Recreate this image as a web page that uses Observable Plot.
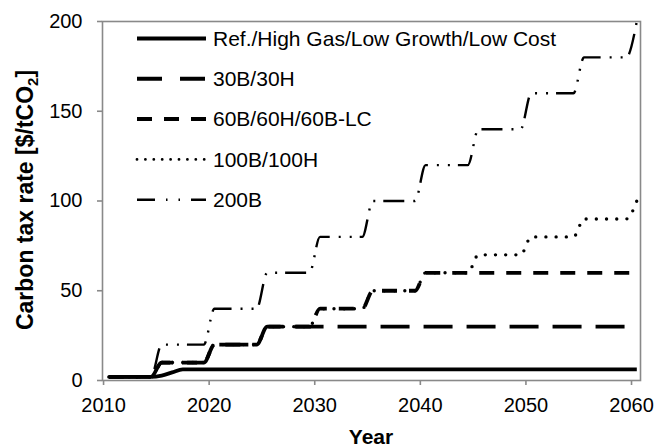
<!DOCTYPE html>
<html>
<head>
<meta charset="utf-8">
<script src="https://cdn.jsdelivr.net/npm/d3@7"></script>
<script src="https://cdn.jsdelivr.net/npm/@observablehq/plot@0.6"></script>
<style>
  html, body { margin: 0; padding: 0; background: #fff; }
  #chart { width: 659px; height: 447px; font-family: "Liberation Sans", Arial, sans-serif; }
</style>
</head>
<body>
<div id="chart"></div>
<script>
// Carbon tax trajectories by scenario, annual values ($/tCO2)
const years = [
  2010, 2011, 2012, 2013, 2014, 2015, 2016, 2017, 2018, 2019,
  2020, 2021, 2022, 2023, 2024, 2025, 2026, 2027, 2028, 2029,
  2030, 2031, 2032, 2033, 2034, 2035, 2036, 2037, 2038, 2039,
  2040, 2041, 2042, 2043, 2044, 2045, 2046, 2047, 2048, 2049,
  2050, 2051, 2052, 2053, 2054, 2055, 2056, 2057, 2058, 2059,
  2060
];
const refTax = [
  2, 2, 2, 2, 2, 2.7, 4.5, 6.2, 6.2, 6.2,
  6.2, 6.2, 6.2, 6.2, 6.2, 6.2, 6.2, 6.2, 6.2, 6.2,
  6.2, 6.2, 6.2, 6.2, 6.2, 6.2, 6.2, 6.2, 6.2, 6.2,
  6.2, 6.2, 6.2, 6.2, 6.2, 6.2, 6.2, 6.2, 6.2, 6.2,
  6.2, 6.2, 6.2, 6.2, 6.2, 6.2, 6.2, 6.2, 6.2, 6.2,
  6.2
];
const tax30 = [
  2, 2, 2, 2, 2, 10, 10, 10, 10, 10,
  20, 20, 20, 20, 20, 30, 30, 30, 30, 30,
  30, 30, 30, 30, 30, 30, 30, 30, 30, 30,
  30, 30, 30, 30, 30, 30, 30, 30, 30, 30,
  30, 30, 30, 30, 30, 30, 30, 30, 30, 30,
  30
];
const tax60 = [
  2, 2, 2, 2, 2, 10, 10, 10, 10, 10,
  20, 20, 20, 20, 20, 30, 30, 30, 30, 30,
  40, 40, 40, 40, 40, 50, 50, 50, 50, 50,
  60, 60, 60, 60, 60, 60, 60, 60, 60, 60,
  60, 60, 60, 60, 60, 60, 60, 60, 60, 60,
  60
];
const tax100 = [
  2, 2, 2, 2, 2, 10, 10, 10, 10, 10,
  20, 20, 20, 20, 20, 30, 30, 30, 30, 30,
  40, 40, 40, 40, 40, 50, 50, 50, 50, 50,
  60, 60, 60, 60, 60, 70, 70, 70, 70, 70,
  80, 80, 80, 80, 80, 90, 90, 90, 90, 90,
  100
];
const tax200 = [
  2, 2, 2, 2, 2, 20, 20, 20, 20, 20,
  40, 40, 40, 40, 40, 60, 60, 60, 60, 60,
  80, 80, 80, 80, 80, 100, 100, 100, 100, 100,
  120, 120, 120, 120, 120, 140, 140, 140, 140, 140,
  160, 160, 160, 160, 160, 180, 180, 180, 180, 180,
  200
];
const seriesNames = [
  "Ref./High Gas/Low Growth/Low Cost",
  "30B/30H",
  "60B/60H/60B-LC",
  "100B/100H",
  "200B"
];
const seriesValues = [refTax, tax30, tax60, tax100, tax200];
const xTicks = [2010, 2020, 2030, 2040, 2050, 2060];
const yTicks = [0, 50, 100, 150, 200];

// Line styling per scenario (plot line, and legend sample)
const lineStyles = [
  {width: 3.8, dash: null, cap: "butt", legendWidth: 4, legendDash: null},
  {width: 3.8, dash: "29,14", cap: "butt", legendWidth: 4, legendDash: "25,18"},
  {width: 3.8, dash: "15,12", cap: "butt", legendWidth: 4, legendDash: "15,12"},
  {width: 3.4, dash: "0,10.2", cap: "round", legendWidth: 2.8, legendDash: "0,8.4"},
  {width: 2.4, dash: "21,9,2,9,2,8", cap: "butt", legendWidth: 2.4, legendDash: "18,11,1.5,11,1.5,11"}
];

const rows = years.map((year, i) => {
  const r = {year};
  seriesNames.forEach((name, k) => { r[name] = seriesValues[k][i]; });
  return r;
});

const gray = "#898989";
const font = "'Liberation Sans', Arial, sans-serif";

const chart = Plot.plot({
  width: 659,
  height: 447,
  marginLeft: 102,
  marginRight: 19,
  marginTop: 21,
  marginBottom: 67,
  style: {fontFamily: font, fontSize: "20px", color: "#000", background: "#fff"},
  x: {domain: [2009.9, 2060.85], label: null},
  y: {domain: [0, 200], label: null},
  marks: [
    Plot.frame({stroke: gray, strokeWidth: 1.6}),
    Plot.axisX({ticks: xTicks, tickFormat: "d", tickSize: 5, tickPadding: 12,
                stroke: gray, strokeWidth: 1.6, fill: "#000", fontSize: 20, label: null}),
    Plot.axisY({ticks: yTicks, tickSize: 5, tickPadding: 15,
                stroke: gray, strokeWidth: 1.6, fill: "#000", fontSize: 20, label: null}),
    ...seriesNames.map((name, k) => Plot.line(rows, {
      // annual values are placed at mid-year
      x: d => d.year + 0.5,
      y: name,
      curve: "monotone-x",
      stroke: "#000",
      strokeWidth: lineStyles[k].width,
      strokeDasharray: lineStyles[k].dash,
      strokeLinecap: lineStyles[k].cap
    }))
  ]
});

document.getElementById("chart").appendChild(chart);

const svg = d3.select(chart);

// Legend inside the plot area, top left
const legend = svg.append("g")
  .attr("font-family", font).attr("font-size", 21).attr("text-anchor", "start");
seriesNames.forEach((name, k) => {
  const y = 38.5 + k * 40.3;
  const s = lineStyles[k];
  legend.append("line")
    .attr("x1", 137).attr("x2", 206).attr("y1", y).attr("y2", y)
    .attr("stroke", "#000")
    .attr("stroke-width", s.legendWidth)
    .attr("stroke-dasharray", s.legendDash)
    .attr("stroke-linecap", s.cap);
  legend.append("text")
    .attr("x", 213).attr("y", y).attr("dy", "0.35em")
    .attr("fill", "#000")
    .text(name);
});

// Axis titles
svg.append("text")
  .attr("x", 371).attr("y", 444)
  .attr("text-anchor", "middle")
  .attr("font-family", font).attr("font-size", 21).attr("font-weight", "bold")
  .attr("fill", "#000")
  .text("Year");

const yTitle = svg.append("text")
  .attr("transform", "translate(33,200) rotate(-90)")
  .attr("text-anchor", "middle")
  .attr("font-family", font).attr("font-size", 23).attr("font-weight", "bold")
  .attr("fill", "#000");
yTitle.append("tspan").text("Carbon tax rate [$/tCO");
yTitle.append("tspan").attr("font-size", 15).attr("dy", 5).text("2");
yTitle.append("tspan").attr("dy", -5).text("]");
</script>
</body>
</html>
